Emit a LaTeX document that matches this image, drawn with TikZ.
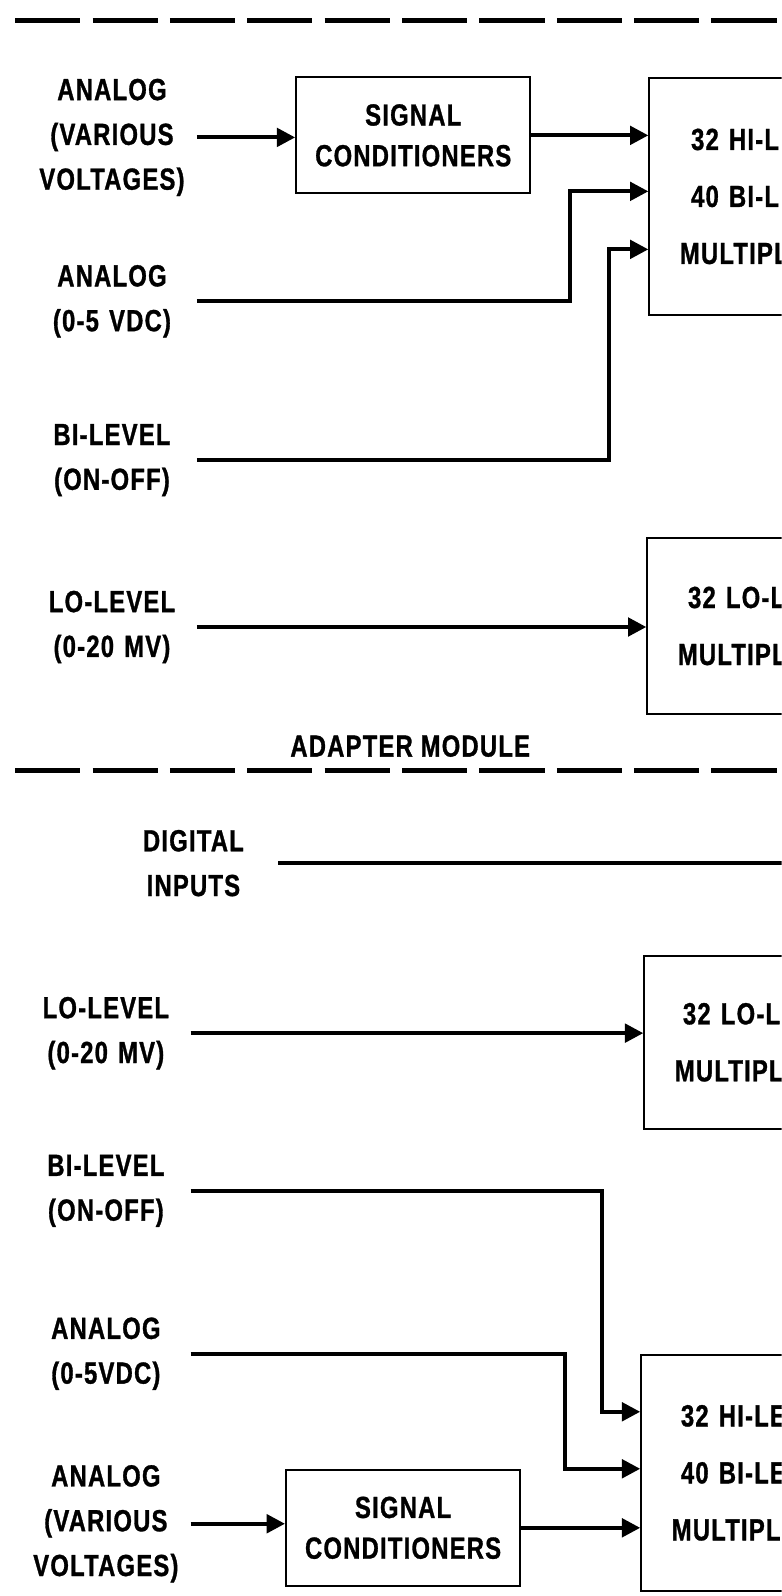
\documentclass[tikz,border=0pt]{standalone}
\usepackage{fontspec}
\newfontfamily\diafont{Liberation Sans}[FakeStretch=0.78,LetterSpace=4,BoldFeatures={FakeBold=1}]
\usetikzlibrary{arrows.meta,positioning}

\begin{document}
\begin{tikzpicture}[x=0.5pt, y=-0.5pt, >={Triangle[length=9pt,width=9pt]},
	every node/.style={font=\diafont\bfseries\fontsize{15}{22}\selectfont},
	inlabel/.style={text width=83pt, align=center, inner sep=0pt},
	sigbox/.style={draw, line width=1pt, minimum width=115pt, minimum height=57pt, align=center, inner sep=0pt, font=\diafont\bfseries\fontsize{15}{20}\selectfont},
	muxbox/.style={draw, line width=1pt, anchor=north west, text width=100pt, inner xsep=15pt, inner ysep=0pt, align=left, font=\diafont\bfseries\fontsize{15}{28}\selectfont},
	wire/.style={line width=2pt},
	divider/.style={line width=2.5pt, dash pattern=on 32pt off 6pt}]
			\useasboundingbox (0,0) rectangle (768,1568);
			\clip (0,0) rectangle (768,1568);
			
			% upper half
			\draw [divider] (15,20) -- (790,20);
			\node (anaA) [inlabel] at (110,135) {ANALOG\\(VARIOUS\\VOLTAGES)};
			\node (anaB) [inlabel] at (110,296) {ANALOG\\(0-5 VDC)};
			\node (biA) [inlabel] at (110,452) {BI-LEVEL\\(ON-OFF)};
			\node (loA) [inlabel] at (110,616) {LO-LEVEL\\(0-20 MV)};
			\node (sigA) [sigbox] at (406,133) {SIGNAL\\CONDITIONERS};
			\node (hiMuxA) [muxbox, minimum height=116pt] at (637,76) {\hspace*{5.5pt}32 HI-L\\\hspace*{5.5pt}40 BI-L\\MULTIPL};
			\node (loMuxA) [muxbox, minimum height=86pt] at (635,528) {\hspace*{5pt}32 LO-L\\MULTIPL};
			\node (adapter) at (403,733) {ADAPTER MODULE};
			
			\draw [wire, ->] (anaA.east) -- (anaA.east -| sigA.west);
			\draw [wire, ->] (sigA.east) -- (sigA.east -| hiMuxA.west);
			\draw [wire, ->] (anaB.east) -- ++(367,0) |- ([yshift=2.5pt]hiMuxA.west);
			\draw [wire, ->] (biA.east) -- ++(405,0) |- ([yshift=-26pt]hiMuxA.west);
			\draw [wire, ->] (loA.east) -- (loA.east -| loMuxA.west);
			
			% lower half
			\draw [divider] (15,757) -- (790,757);
			\node (digital) [inlabel] at (190,848) {DIGITAL\\INPUTS};
			\coordinate (digEnd) at (790,848);
			\node (loB) [inlabel] at (104,1015) {LO-LEVEL\\(0-20 MV)};
			\node (biB) [inlabel] at (104,1170) {BI-LEVEL\\(ON-OFF)};
			\node (anaD) [inlabel] at (104,1330) {ANALOG\\(0-5VDC)};
			\node (anaE) [inlabel] at (104,1497) {ANALOG\\(VARIOUS\\VOLTAGES)};
			\node (sigB) [sigbox] at (396,1501) {SIGNAL\\CONDITIONERS};
			\node (loMuxB) [muxbox, minimum height=85pt] at (632,938) {\hspace*{4pt}32 LO-L\\MULTIPL};
			\node (hiMuxB) [muxbox, minimum height=116pt] at (629,1330) {\hspace*{4.5pt}32 HI-LE\\\hspace*{4.5pt}40 BI-LE\\MULTIPLE};
			
			\draw [line width=1.8pt] (digital.east) -- (digEnd);
			\draw [wire, ->] (loB.east) -- (loB.east -| loMuxB.west);
			\draw [wire, ->] (biB.east) -- ++(404,0) |- ([yshift=30pt]hiMuxB.west);
			\draw [wire, ->] (anaD.east) -- ++(368,0) |- ([yshift=2pt]hiMuxB.west);
			\draw [wire, ->] (anaE.east) -- (anaE.east -| sigB.west);
			\draw [wire, ->] (sigB.east) -- (sigB.east -| hiMuxB.west);
			%\draw [wire, ->] (digital.east) -- (digEnd);
		\end{tikzpicture}
\end{document}
